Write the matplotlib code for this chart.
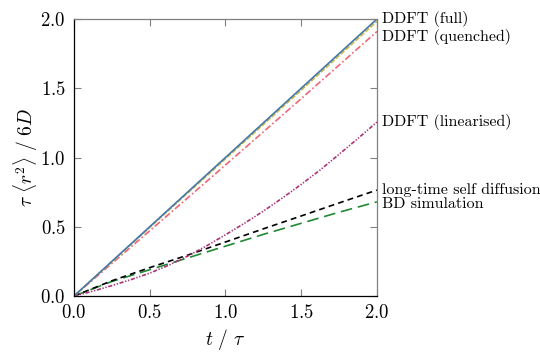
import matplotlib
matplotlib.use("Agg")
import matplotlib.pyplot as plt
import numpy as np

plt.rcParams['font.family'] = ['cmr10', 'DejaVu Serif']
plt.rcParams['mathtext.fontset'] = 'cm'
plt.rcParams['axes.formatter.use_mathtext'] = True

# data
t_coarse = [0.0, 0.25, 0.5, 0.75, 1.0, 1.25, 1.5, 1.75, 2.0]
ddft_full = [0.0, 0.25, 0.5, 0.75, 1.0, 1.25, 1.5, 1.75, 2.0]
ddft_yellow = [0.0, 0.247, 0.495, 0.743, 0.99, 1.238, 1.486, 1.735, 1.983]
ddft_quenched = [0.0, 0.235, 0.471, 0.708, 0.946, 1.185, 1.425, 1.667, 1.91]
long_time = [0.0, 0.11, 0.205, 0.295, 0.39, 0.485, 0.578, 0.672, 0.765]
bd_sim = [0.0, 0.105, 0.19, 0.275, 0.36, 0.445, 0.525, 0.605, 0.68]
t_fine = [0.0, 0.125, 0.25, 0.375, 0.5, 0.625, 0.75, 0.875, 1.0,
          1.125, 1.25, 1.375, 1.5, 1.625, 1.75, 1.875, 2.0]
ddft_lin = [0.0, 0.035, 0.075, 0.118, 0.165, 0.222, 0.288, 0.362, 0.442,
            0.525, 0.613, 0.707, 0.806, 0.91, 1.023, 1.138, 1.256]

labels = ["DDFT (full)", "DDFT (quenched)", "DDFT (linearised)",
          "long-time self diffusion", "BD simulation"]
label_y = [2.0, 1.87, 1.26, 0.765, 0.665]

fig = plt.figure(figsize=(5.4, 3.56), dpi=100)
ax = fig.add_axes([0.137, 0.1685, 0.561, 0.778])

lw = 1.2
ax.plot(t_coarse, bd_sim, color='#228833', lw=lw, dashes=(7, 3.5))
ax.plot(t_coarse, long_time, color='black', lw=lw, dashes=(3.5, 2.5))
ax.plot(t_fine, ddft_lin, color='#AA3377', lw=lw, dashes=(2.5, 1, 0.8, 1, 0.8, 1))
ax.plot(t_coarse, ddft_quenched, color='#EE6677', lw=lw, dashes=(4, 1.5, 1, 1.5))
ax.plot(t_coarse, ddft_yellow, color='#CCBB44', lw=lw, dashes=(3, 1))
ax.plot(t_coarse, ddft_full, color='#4477AA', lw=lw)

ax.set_xlim(0, 2)
ax.set_ylim(0, 2)
ax.set_xticks([0, 0.5, 1.0, 1.5, 2.0])
ax.set_yticks([0, 0.5, 1.0, 1.5, 2.0])
ax.tick_params(direction='in', top=True, right=True, length=5, width=0.8,
               color='0.5', labelsize=13.5, pad=6)
for s in ['top', 'right']:
    ax.spines[s].set_color('0.5')
for s in ['left', 'bottom']:
    ax.spines[s].set_color('black')
for s in ax.spines.values():
    s.set_linewidth(0.9)

ax.set_xlabel(r'$t\ /\ \tau$', fontsize=14, labelpad=3)
ax.set_ylabel(r'$\tau\ \langle r^2\rangle\ /\ 6D$', fontsize=14)
ax.yaxis.set_label_coords(-0.112, 0.5)

for lab, yv in zip(labels, label_y):
    ax.text(2.035, yv, lab, fontsize=11.5, va='center', ha='left',
            transform=ax.transData, clip_on=False)

fig.savefig('out.png', dpi=100)
